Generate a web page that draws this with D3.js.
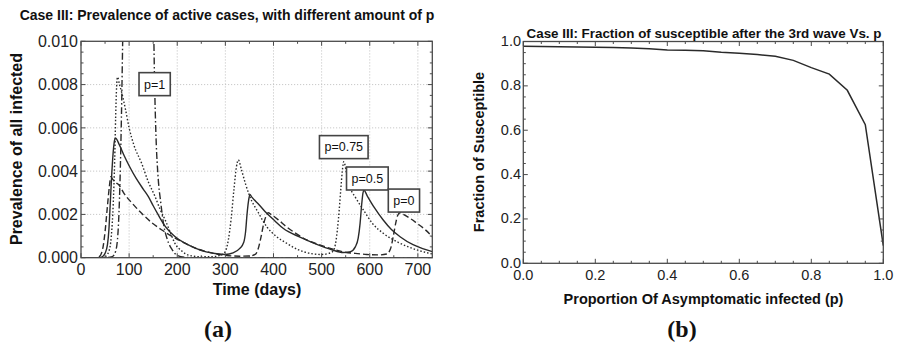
<!DOCTYPE html>
<html><head><meta charset="utf-8">
<script src="https://cdn.jsdelivr.net/npm/d3@7"></script>
<style>
body{margin:0;background:#fff;}
svg{display:block;font-family:"Liberation Sans",Arial,sans-serif;}
</style></head>
<body>
<svg id="c" width="899" height="343"></svg>
<script>
// ---------- data: left panel (prevalence x 1e-3 vs day) ----------
const seriesNames = ["p=0","p=0.5","p=0.75","p=1"];
const p0 = [[0,0],[30,0],[38,0.05],[45,0.4],[50,1.2],[55,2.4],[59,3.3],[62,3.74],[66,3.62],[72,3.48],[78,3.38],[90,2.95],[105,2.55],[126,2.05],[147,1.62],[168,1.28],[190,0.98],[216,0.67],[240,0.42],[258,0.3],[280,0.18],[303,0.1],[330,0.07],[350,0.08],[362,0.15],[368,0.4],[374,0.95],[380,1.6],[385,1.95],[389,2.08],[395,2.0],[410,1.75],[427,1.43],[448,1.1],[469,0.82],[495,0.6],[520,0.42],[545,0.27],[570,0.2],[594,0.15],[620,0.13],[635,0.17],[643,0.4],[649,1.0],[654,1.6],[658,1.95],[663,2.08],[670,2.0],[685,1.8],[698,1.59],[715,1.3],[730,0.97]];
const p05 = [[0,0],[35,0],[43,0.03],[50,0.2],[55,0.6],[58,1.3],[61,2.6],[64,3.9],[67,4.9],[70,5.45],[72,5.52],[80,5.2],[90,4.7],[100,4.25],[115,3.65],[130,3.15],[140,2.82],[150,2.4],[160,2.0],[175,1.45],[195,0.98],[216,0.67],[240,0.42],[260,0.27],[282,0.18],[300,0.15],[316,0.22],[330,0.43],[338,0.7],[342,1.2],[345,2.0],[348,2.6],[351,2.92],[355,2.8],[370,2.45],[386,2.05],[403,1.7],[420,1.36],[455,0.95],[490,0.62],[520,0.38],[545,0.24],[560,0.28],[570,0.5],[576,0.9],[580,1.6],[583,2.4],[586,3.0],[588,3.12],[595,2.85],[610,2.3],[628,1.74],[645,1.3],[663,0.97],[690,0.6],[710,0.42],[730,0.28]];
const p075 = [[0,0],[40,0],[50,0.05],[58,0.3],[63,1.0],[67,2.5],[70,4.5],[72,6.5],[74,7.9],[76,8.35],[80,8.0],[85,7.6],[92,6.9],[100,6.0],[110,5.2],[126,4.36],[140,3.5],[154,2.82],[165,2.2],[175,1.74],[185,1.2],[195,0.67],[210,0.3],[223,0.12],[250,0.04],[275,0.05],[290,0.12],[299,0.25],[306,0.8],[312,1.8],[318,3.2],[323,4.2],[327,4.52],[333,4.1],[342,3.4],[351,2.82],[368,2.1],[386,1.43],[405,1.0],[427,0.67],[450,0.38],[476,0.2],[500,0.15],[515,0.2],[524,0.3],[530,0.8],[535,1.8],[540,3.2],[543,4.0],[546,4.44],[552,3.9],[560,3.2],[570,2.8],[587,2.2],[605,1.6],[628,1.13],[660,0.7],[698,0.36],[730,0.17]];
const p1 = [[0,0],[50,0],[65,0.05],[72,0.3],[77,1.2],[81,3.5],[84,6.5],[87,10.5],[92,16],[100,22],[115,26],[130,24],[142,18],[150,12],[153,8],[156,5.5],[160,3.8],[166,2.5],[172,1.5],[180,0.8],[190,0.35],[200,0.1],[215,0.02],[240,0],[730,0]];
const dashes = ["6,3","none","1.5,2","7,2.5,1.5,2.5"];
const leftXTicks = [0,100,200,300,400,500,600,700];
const leftYTicks = [0,0.002,0.004,0.006,0.008,0.010];
const labelPos = [["p=1",153,8.02],["p=0.75",546,5.11],["p=0.5",595,3.66],["p=0",671,2.64]];

// ---------- data: right panel ----------
const pVals = [0,0.05,0.1,0.15,0.2,0.25,0.3,0.35,0.4,0.45,0.5,0.55,0.6,0.65,0.7,0.75,0.8,0.85,0.9,0.95,1.0];
const fracS = [0.979,0.977,0.976,0.975,0.974,0.973,0.971,0.967,0.962,0.960,0.958,0.951,0.947,0.941,0.933,0.915,0.882,0.853,0.78,0.625,0.08];
const rightXTicks = [0,0.2,0.4,0.6,0.8,1.0];
const rightYTicks = [0,0.2,0.4,0.6,0.8,1.0];

const svg = d3.select("#c");
const frameCol = "#4a4a4a", lineCol = "#2a2a2a";

function frame(g, x, y, xMinor, yMinor, xMajor, yMajor){
  const [x0,x1] = x.range(), [y0,y1] = y.range();
  const tk = (v, len, isX) => {
    if(isX){
      g.append("line").attr("x1",x(v)).attr("x2",x(v)).attr("y1",y0).attr("y2",y0-len).attr("stroke",frameCol);
      g.append("line").attr("x1",x(v)).attr("x2",x(v)).attr("y1",y1).attr("y2",y1+len).attr("stroke",frameCol);
    } else {
      g.append("line").attr("y1",y(v)).attr("y2",y(v)).attr("x1",x0).attr("x2",x0+len).attr("stroke",frameCol);
      g.append("line").attr("y1",y(v)).attr("y2",y(v)).attr("x1",x1).attr("x2",x1-len).attr("stroke",frameCol);
    }
  };
  xMinor.forEach(v=>tk(v,2.5,true)); yMinor.forEach(v=>tk(v,2.5,false));
  xMajor.forEach(v=>tk(v,4.5,true)); yMajor.forEach(v=>tk(v,4.5,false));
  g.append("rect").attr("x",x0).attr("y",y1).attr("width",x1-x0).attr("height",y0-y1)
    .attr("fill","none").attr("stroke",frameCol).attr("stroke-width",1.3);
}

// ================= LEFT =================
const xL = d3.scaleLinear().domain([0,730]).range([81,432.3]);
const yL = d3.scaleLinear().domain([0,0.010]).range([257.7,41.3]);
const gL = svg.append("g");
svg.append("defs").append("clipPath").attr("id","clipL").append("rect")
  .attr("x",81).attr("y",41.3).attr("width",351.3).attr("height",216.4);

leftXTicks.filter(d=>d>0).forEach(d=>gL.append("line").attr("x1",xL(d)).attr("x2",xL(d)).attr("y1",41.3).attr("y2",257.7)
  .attr("stroke","#bbb").attr("stroke-width",0.8).attr("stroke-dasharray","1.2,1.8"));
leftYTicks.filter(d=>d>0 && d<0.01).forEach(d=>gL.append("line").attr("y1",yL(d)).attr("y2",yL(d)).attr("x1",81).attr("x2",432.3)
  .attr("stroke","#bbb").attr("stroke-width",0.8).attr("stroke-dasharray","1.2,1.8"));

const lineL = d3.line().x(d=>xL(d[0])).y(d=>yL(d[1]*1e-3)).curve(d3.curveMonotoneX);
const gLines = gL.append("g").attr("clip-path","url(#clipL)");
[p0,p05,p075,p1].forEach((s,i)=>{
  gLines.append("path").datum(s).attr("d",lineL).attr("fill","none").attr("stroke",lineCol)
    .attr("stroke-width",1.4).attr("stroke-dasharray",dashes[i]);
});

frame(gL, xL, yL, d3.range(50,730,100), d3.range(0.0005,0.01,0.0005).filter(v=>Math.abs(v/0.002-Math.round(v/0.002))>0.01), leftXTicks, leftYTicks);

leftXTicks.forEach(d=>gL.append("text").attr("x",xL(d)).attr("y",275).attr("text-anchor","middle")
  .attr("font-size",16).attr("fill","#222").text(d));
leftYTicks.forEach(d=>gL.append("text").attr("x",78).attr("y",yL(d)).attr("dy","0.36em").attr("text-anchor","end")
  .attr("font-size",16).attr("fill","#222").text(d3.format(".3f")(d)));

labelPos.forEach(([t,dx,dy])=>{
  const cx = xL(dx), cy = yL(dy*1e-3);
  const txt = gL.append("text").attr("x",cx).attr("y",cy).attr("dy","0.35em").attr("text-anchor","middle")
    .attr("font-size",12.5).attr("fill","#111").text(t);
  const bb = txt.node().getBBox();
  gL.insert("rect","text:last-child").attr("x",bb.x-5).attr("y",cy-11.5).attr("width",bb.width+10).attr("height",23)
    .attr("fill","#fff").attr("stroke","#444").attr("stroke-width",1.6);
  txt.raise();
});

gL.append("text").attr("x",227).attr("y",20).attr("text-anchor","middle").attr("font-size",14)
  .attr("font-weight","bold").attr("fill","#111").text("Case III: Prevalence of active cases, with different amount of p");
gL.append("text").attr("x",257).attr("y",294.5).attr("text-anchor","middle").attr("font-size",16)
  .attr("font-weight","bold").attr("fill","#111").text("Time (days)");
gL.append("text").attr("transform","translate(22,149) rotate(-90)").attr("text-anchor","middle").attr("font-size",16)
  .attr("font-weight","bold").attr("fill","#111").text("Prevalence of all infected");
gL.append("text").attr("x",218).attr("y",337).attr("text-anchor","middle").attr("font-size",24)
  .attr("font-family","'Liberation Serif','Times New Roman',serif").attr("font-weight","bold").attr("fill","#111").text("(a)");

// ================= RIGHT =================
const xR = d3.scaleLinear().domain([0,1]).range([523.3,883.3]);
const yR = d3.scaleLinear().domain([0,1]).range([263.3,41.5]);
const gR = svg.append("g");
const lineR = d3.line().x((d,i)=>xR(pVals[i])).y(d=>yR(d));
gR.append("path").datum(fracS).attr("d",lineR).attr("fill","none").attr("stroke",lineCol).attr("stroke-width",1.5);

const minR = d3.range(0.05,1,0.05).filter(v=>Math.abs(v/0.2-Math.round(v/0.2))>0.01);
frame(gR, xR, yR, minR, minR, rightXTicks, rightYTicks);

rightXTicks.forEach(d=>gR.append("text").attr("x",xR(d)).attr("y",280).attr("text-anchor","middle")
  .attr("font-size",14.5).attr("fill","#222").text(d3.format(".1f")(d)));
rightYTicks.forEach(d=>gR.append("text").attr("x",521).attr("y",yR(d)-0.8).attr("dy","0.36em").attr("text-anchor","end")
  .attr("font-size",14.5).attr("fill","#222").text(d3.format(".1f")(d)));

gR.append("text").attr("x",704).attr("y",37.5).attr("text-anchor","middle").attr("font-size",13.4)
  .attr("font-weight","bold").attr("fill","#111").text("Case III: Fraction of susceptible after the 3rd wave Vs. p");
gR.append("text").attr("x",703.5).attr("y",304).attr("text-anchor","middle").attr("font-size",14.5)
  .attr("font-weight","bold").attr("fill","#111").text("Proportion Of Asymptomatic infected (p)");
gR.append("text").attr("transform","translate(484,152) rotate(-90)").attr("text-anchor","middle").attr("font-size",14.5)
  .attr("font-weight","bold").attr("fill","#111").text("Fraction of Susceptible");
gR.append("text").attr("x",682).attr("y",337).attr("text-anchor","middle").attr("font-size",24)
  .attr("font-family","'Liberation Serif','Times New Roman',serif").attr("font-weight","bold").attr("fill","#111").text("(b)");
</script>
</body></html>
